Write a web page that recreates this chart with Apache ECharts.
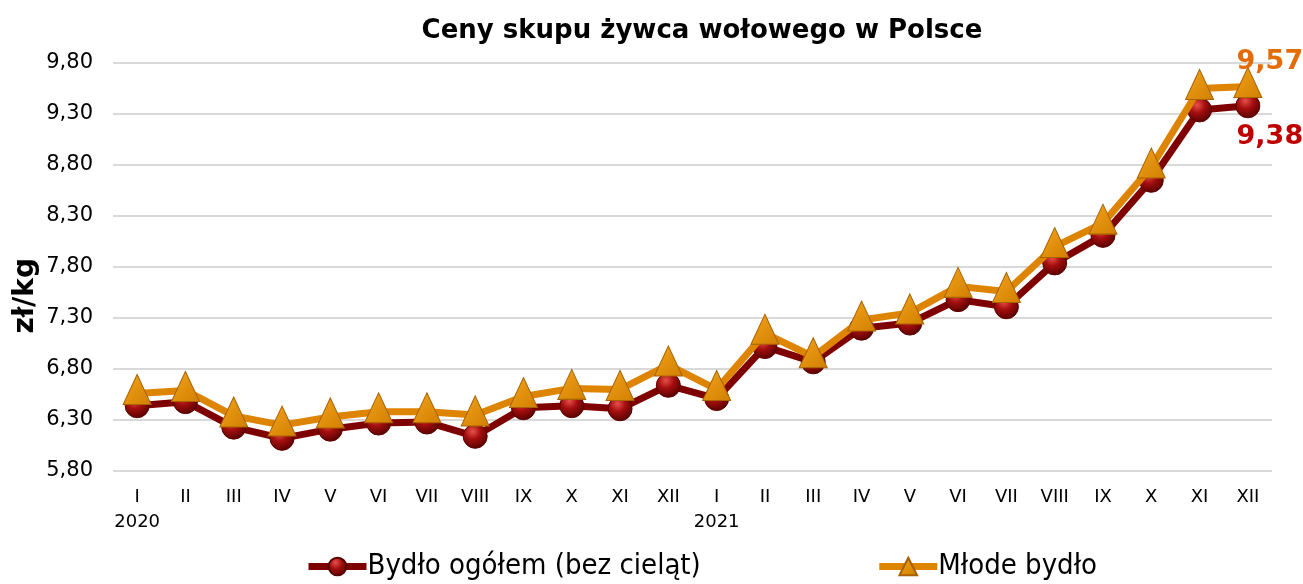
<!DOCTYPE html>
<html>
<head>
<meta charset="utf-8">
<script src="https://cdn.jsdelivr.net/npm/echarts@6/dist/echarts.min.js"></script>
<style>
  html, body { margin: 0; padding: 0; background: #fff; }
  #chart { width: 1303px; height: 584px; }
</style>
</head>
<body>
<div id="chart"></div>
<script>
// miesiące 2020 - 2021
var months = ['I', 'II', 'III', 'IV', 'V', 'VI', 'VII', 'VIII', 'IX', 'X', 'XI', 'XII',
              'I', 'II', 'III', 'IV', 'V', 'VI', 'VII', 'VIII', 'IX', 'X', 'XI', 'XII'];
var years = { 0: '2020', 12: '2021' };

var bydloOgolem = [6.44, 6.48, 6.23, 6.12, 6.21, 6.27, 6.28, 6.14, 6.42, 6.44, 6.41, 6.64,
                   6.51, 7.02, 6.87, 7.20, 7.25, 7.48, 7.41, 7.84, 8.11, 8.65, 9.34, 9.38];
var mlodeBydlo = [6.56, 6.59, 6.34, 6.25, 6.33, 6.38, 6.38, 6.35, 6.53, 6.61, 6.60, 6.84,
                  6.60, 7.15, 6.92, 7.28, 7.35, 7.61, 7.56, 8.00, 8.23, 8.78, 9.55, 9.57];

var font = 'DejaVu Sans, Verdana, sans-serif';

function withLastLabel(arr, pos, color, offY) {
  return arr.map(function (v, i) {
    if (i !== arr.length - 1) return v;
    return {
      value: v,
      label: {
        show: true,
        position: pos,
        distance: 14,
        offset: [22, offY],
        color: color,
        fontFamily: font,
        fontWeight: 'bold',
        fontSize: 27,
        formatter: function (p) { return p.value.toFixed(2).replace('.', ','); }
      }
    };
  });
}

var chartDom = document.getElementById('chart');
var myChart = echarts.init(chartDom, null, { renderer: 'canvas' });

var ballColor = new echarts.graphic.RadialGradient(0.4, 0.3, 0.7, [
  { offset: 0, color: '#e8504a' },
  { offset: 0.45, color: '#a50f0f' },
  { offset: 1, color: '#5a0000' }
]);
var triColor = new echarts.graphic.LinearGradient(0, 0, 1, 1, [
  { offset: 0, color: '#f3a41c' },
  { offset: 1, color: '#d07e00' }
]);

var option = {
  animation: false,
  title: {
    text: 'Ceny skupu żywca wołowego w Polsce',
    left: 697,
    textAlign: 'center',
    top: 13,
    textStyle: { fontFamily: font, fontWeight: 'bold', fontSize: 26, color: '#000' }
  },
  grid: { left: 113, right: 31, top: 63, bottom: 113, containLabel: false },
  graphic: [{
    type: 'text',
    left: 12,
    top: 258,
    rotation: Math.PI / 2,
    style: {
      text: 'zł/kg',
      fontFamily: font,
      fontWeight: 'bold',
      fontSize: 28,
      fill: '#000'
    }
  }],
  xAxis: {
    type: 'category',
    data: months,
    boundaryGap: true,
    axisLine: { show: false },
    axisTick: { show: false },
    axisLabel: {
      margin: 14,
      color: '#000',
      fontFamily: font,
      fontSize: 18,
      lineHeight: 25,
      interval: 0,
      formatter: function (val, idx) {
        return years[idx] ? val + '\n' + years[idx] : val;
      }
    }
  },
  yAxis: {
    type: 'value',
    min: 5.8,
    max: 9.8,
    interval: 0.5,
    axisLine: { show: false },
    axisTick: { show: false },
    splitLine: { lineStyle: { color: '#d9d9d9', width: 2 } },
    axisLabel: {
      margin: 20,
      color: '#000',
      fontFamily: font,
      fontSize: 21,
      formatter: function (v) { return v.toFixed(2).replace('.', ','); }
    }
  },
  legend: {
    bottom: -2,
    left: 300,
    itemGap: 175,
    itemWidth: 58,
    itemHeight: 22,
    lineStyle: { width: 7 },
    textStyle: { fontFamily: 'DejaVu Sans Condensed, ' + font, fontSize: 29, color: '#000', padding: [0, 0, 0, -4] },
    data: ['Bydło ogółem (bez cieląt)', 'Młode bydło']
  },
  series: [
    {
      name: 'Bydło ogółem (bez cieląt)',
      type: 'line',
      data: withLastLabel(bydloOgolem, 'bottom', '#c00000', -9),
      symbol: 'circle',
      symbolSize: 24,
      z: 2,
      lineStyle: { color: '#7f0000', width: 7 },
      itemStyle: { color: ballColor, borderColor: '#5a0000', borderWidth: 1 }
    },
    {
      name: 'Młode bydło',
      type: 'line',
      data: withLastLabel(mlodeBydlo, 'top', '#e36c09', 23),
      symbol: 'triangle',
      symbolSize: [28, 30],
      symbolOffset: [0, -4],
      z: 3,
      lineStyle: { color: '#dd8400', width: 7 },
      itemStyle: { color: triColor, borderColor: '#a86200', borderWidth: 1 }
    }
  ]
};

option && myChart.setOption(option);
</script>
</body>
</html>
